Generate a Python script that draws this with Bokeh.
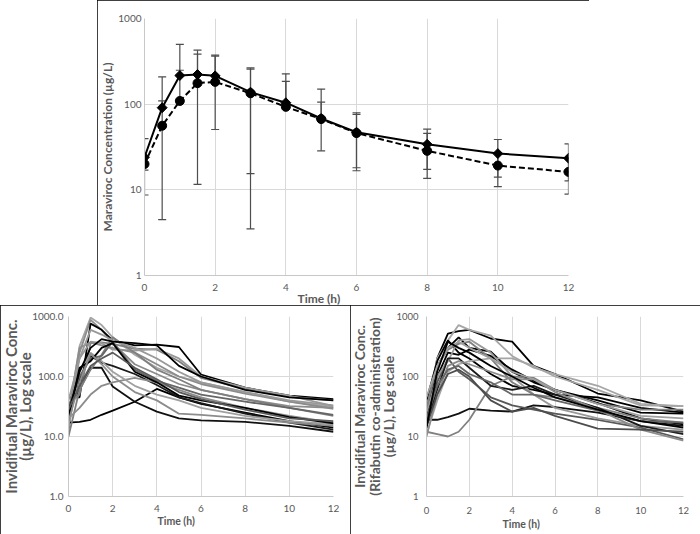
import numpy as np
from bokeh.plotting import figure
from bokeh.models import Range1d, FixedTicker, Title, Spacer, PrintfTickFormatter
from bokeh.layouts import column, row
from bokeh.embed import file_html
from bokeh.resources import INLINE

# ---------------- data ----------------
time_h = [0, 0.5, 1, 1.5, 2, 3, 4, 5, 6, 8, 10, 12]
x_ticks = [0, 2, 4, 6, 8, 10, 12]
y_ticks = [1, 10, 100, 1000]
y_tick_labels_top = ["1", "10", "100", "1000"]
y_tick_labels_left = ["1.0", "10.0", "100.0", "1000.0"]
y_tick_labels_right = ["1", "10", "100", "1000"]

# mean concentrations (ug/L)
mean_alone = [24, 91, 216, 222, 214, 138, 104, 68, 47, 34, 26.5, 23.4]      # solid, diamonds
mean_rbt = [20, 56, 109, 176, 182, 134, 93, 67, 46, 28.5, 19.2, 16.2]       # dashed, circles
nan = float("nan")
upper_alone = [39.7, 208, 498, 427, 373, 257, 226, 150, 79.3, 51, 38.7, 34.4]
lower_alone = [8.7, nan, nan, 11.6, 50.6, 15.5, nan, nan, 16.7, 17.3, 14.1, 12.7]
upper_rbt = [24, 109, 249, 383, 363, 265, 185, 105.5, 75.7, 45.5, 27, 23.5]
lower_rbt = [17, 4.5, nan, nan, nan, 3.5, nan, 28.5, 18.1, 13.6, 10.9, 8.9]

# individual profiles, maraviroc alone
indiv_alone = [
    [22, 320, 960, 720, 450, 230, 140, 100, 80, 55, 38, 31],
    [12, 250, 880, 600, 360, 160, 110, 75, 60, 42, 32, 30],
    [45, 45, 760, 600, 400, 330, 340, 310, 108, 65, 48, 42],
    [17, 17.5, 19, 23, 27, 38, 62, 45, 35, 25, 18, 14],
    [30, 60, 140, 140, 68, 38, 26, 20, 18.5, 17.5, 15, 12],
    [22, 90, 220, 170, 150, 110, 72, 45, 36, 24, 17, 13],
    [35, 50, 360, 370, 350, 290, 280, 180, 95, 62, 46, 40],
    [20, 200, 380, 360, 280, 270, 290, 200, 100, 65, 48, 32],
    [25, 300, 370, 330, 300, 250, 160, 100, 75, 52, 38, 29],
    [10, 60, 130, 230, 450, 250, 130, 90, 60, 42, 30, 22],
    [20, 30, 50, 70, 80, 95, 80, 60, 45, 30, 22, 17],
    [15, 120, 250, 180, 120, 70, 50, 40, 30, 22, 18, 16],
    [30, 100, 200, 220, 380, 130, 85, 65, 50, 38, 30, 23],
    [20, 140, 180, 300, 360, 120, 80, 48, 40, 30, 21, 16.5],
    [40, 200, 600, 500, 400, 300, 200, 120, 80, 55, 40, 33],
    [25, 120, 300, 420, 380, 360, 330, 150, 100, 60, 45, 40],
    [18, 80, 240, 160, 100, 55, 40, 24, 23, 20, 17, 15],
    [28, 70, 150, 200, 250, 140, 90, 55, 42, 28, 20, 18],
]
colors_alone = ["#a6a6a6", "#8c8c8c", "#000000", "#000000", "#111111", "#1a1a1a",
                "#7f7f7f", "#999999", "#8c8c8c", "#7f7f7f", "#8c8c8c", "#a0a0a0",
                "#666666", "#000000", "#999999", "#000000", "#8c8c8c", "#595959"]

# individual profiles, rifabutin co-administration
indiv_rbt = [
    [18, 200, 520, 570, 600, 430, 380, 150, 110, 52, 40, 26],
    [30, 200, 400, 720, 600, 480, 220, 140, 110, 70, 35, 32],
    [40, 180, 400, 250, 200, 110, 70, 60, 50, 45, 30, 25],
    [20, 150, 300, 450, 300, 260, 120, 80, 60, 40, 25, 24],
    [19, 19, 21, 24, 29, 27, 26, 33, 31, 25, 18, 15],
    [12, 11, 10, 12, 19, 70, 100, 95, 60, 35, 28, 28],
    [11, 40, 120, 160, 180, 200, 200, 150, 100, 60, 33, 32],
    [15, 80, 200, 120, 90, 45, 33, 28, 24, 19, 14, 9],
    [20, 100, 250, 230, 280, 220, 130, 85, 60, 36, 20, 16],
    [25, 100, 180, 400, 420, 250, 100, 50, 30, 20, 15, 13],
    [30, 150, 280, 350, 380, 200, 80, 50, 45, 30, 20, 17],
    [15, 60, 200, 200, 140, 70, 60, 70, 50, 30, 15, 11],
    [10, 50, 150, 180, 160, 120, 90, 90, 55, 28, 13, 8.5],
    [20, 70, 130, 150, 110, 80, 50, 50, 40, 27, 18, 17],
    [45, 150, 300, 380, 300, 200, 120, 90, 60, 35, 22, 20],
    [15, 50, 110, 130, 100, 40, 26, 30, 22, 13.5, 13, 12],
    [14, 120, 380, 300, 250, 150, 100, 65, 45, 28, 18, 14],
]
colors_rbt = ["#000000", "#a6a6a6", "#000000", "#000000", "#111111", "#808080",
              "#a6a6a6", "#595959", "#000000", "#999999", "#7f7f7f", "#1a1a1a",
              "#8c8c8c", "#666666", "#a0a0a0", "#4d4d4d", "#000000"]

FONT = "Lato"
TXT = "#595959"


def make_fig(w, h, bl, br, bt, bb, ylabels, fmt, tick_size, x_standoff, y_standoff):
    p = figure(width=w, height=h, x_range=Range1d(0, 12), y_range=Range1d(1, 1000),
               y_axis_type="log", output_backend="svg", toolbar_location=None,
               min_border_left=bl, min_border_right=br, min_border_top=bt, min_border_bottom=bb)
    p.outline_line_color = None
    p.xaxis.ticker = FixedTicker(ticks=x_ticks)
    p.yaxis.ticker = FixedTicker(ticks=y_ticks)
    p.yaxis.formatter = PrintfTickFormatter(format=fmt)
    p.yaxis.major_label_overrides = {float(t): s for t, s in zip(y_ticks, ylabels)}
    p.grid.grid_line_color = "#d9d9d9"
    p.grid.grid_line_width = 1
    p.axis.axis_line_color = "#c8c8c8"
    p.axis.major_tick_line_color = None
    p.axis.minor_tick_line_color = None
    p.axis.major_tick_out = 0
    p.axis.major_tick_in = 0
    p.axis.minor_tick_out = 0
    p.axis.minor_tick_in = 0
    p.axis.major_label_text_color = TXT
    p.axis.major_label_text_font = FONT
    p.axis.major_label_text_font_size = tick_size
    p.xaxis.major_label_standoff = x_standoff
    p.yaxis.major_label_standoff = y_standoff
    p.styles = {"outline": "1.5px solid #000000", "outline-offset": "-1.5px"}
    return p


def add_title(p, text, side, size, align="center", offset=0, standoff=0):
    p.add_layout(Title(text=text, align=align, offset=offset, standoff=standoff,
                       text_font=FONT, text_font_size=size, text_font_style="bold",
                       text_color=TXT), side)


# ---------------- top: mean profiles ----------------
p1 = make_fig(492, 305, 46, 21, 18, 30, y_tick_labels_top, "%d", "10px", 8, 3)
p1.yaxis.axis_label = "Maraviroc Concentration (\u00b5g/L)"
p1.yaxis.axis_label_standoff = 0
p1.yaxis.axis_label_text_font = FONT
p1.yaxis.axis_label_text_font_size = "12px"
p1.yaxis.axis_label_text_font_style = "bold"
p1.yaxis.axis_label_text_color = TXT

t = np.array(time_h)
for mean, up, lo in ((mean_alone, upper_alone, lower_alone), (mean_rbt, upper_rbt, lower_rbt)):
    m = np.array(mean); u = np.array(up); l = np.array(lo)
    y0 = np.where(np.isnan(l), m, l)
    p1.segment(x0=t, y0=y0, x1=t, y1=u, line_color="#4d4d4d", line_width=1.2)
    p1.scatter(t, u, marker="dash", size=8, line_color="#4d4d4d", line_width=1.2)
    ok = ~np.isnan(l)
    p1.scatter(t[ok], l[ok], marker="dash", size=8, line_color="#4d4d4d", line_width=1.2)

p1.line(time_h, mean_rbt, line_color="black", line_width=2, line_dash="6 3")
p1.scatter(time_h, mean_rbt, marker="circle", size=9, color="black")
p1.line(time_h, mean_alone, line_color="black", line_width=2)
p1.scatter(time_h, mean_alone, marker="square", angle=np.pi / 4, size=7, color="black")

add_title(p1, "Time (h)", "below", "12px", align="left", offset=153, standoff=-9)

# ---------------- bottom left ----------------
p2 = make_fig(350, 229, 67, 17, 10, 35, y_tick_labels_left, "%.1f", "10px", 8, 5)
for ys, c in zip(indiv_alone, colors_alone):
    p2.line(time_h, ys, line_color=c, line_width=1.8)
add_title(p2, "(\u00b5g/L), Log scale", "left", "15px", standoff=-9)
add_title(p2, "Invidifual Maraviroc Conc.", "left", "15px", standoff=-2)
add_title(p2, "Time (h)", "below", "10.5px", align="left", offset=89, standoff=-3)

# ---------------- bottom right ----------------
p3 = make_fig(350, 229, 75, 17, 11, 38, y_tick_labels_right, "%d", "9.5px", 10, 8)
for ys, c in zip(indiv_rbt, colors_rbt):
    p3.line(time_h, ys, line_color=c, line_width=1.8)
add_title(p3, "(\u00b5g/L), Log scale", "left", "14px", offset=-7, standoff=-6)
add_title(p3, "(Rifabutin co-administration)", "left", "14px", offset=-7, standoff=-4)
add_title(p3, "Invidifual Maraviroc Conc.", "left", "14px", offset=-7, standoff=-4)
add_title(p3, "Time (h)", "below", "10.5px", align="left", offset=76, standoff=-2)

layout = column(row(Spacer(width=97, height=305), p1), row(p2, p3))

with open("out.html", "w") as f:
    f.write(file_html(layout, INLINE))
